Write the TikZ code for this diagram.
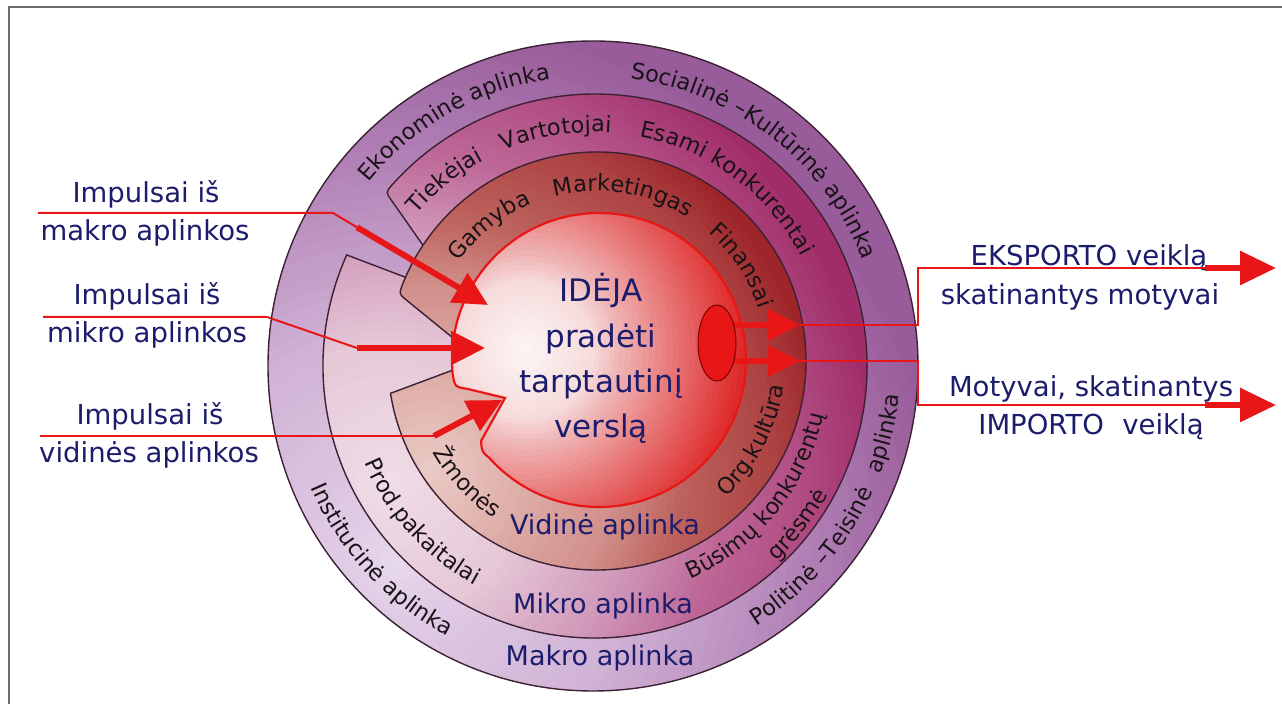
\documentclass[tikz,border=0pt]{standalone}
\usepackage{fontspec}
\setmainfont{DejaVu Sans}
\usetikzlibrary{arrows.meta,shapes.geometric,decorations.text}

\definecolor{navy}{RGB}{28,28,108}
\definecolor{ringtext}{RGB}{25,18,22}
\definecolor{ringline}{RGB}{60,34,52}
\definecolor{arrowred}{RGB}{232,22,22}
\definecolor{ellline}{RGB}{120,0,0}
\definecolor{framegray}{RGB}{110,110,110}
% colour stops of the four zones, from the light spot outwards
\definecolor{mk0}{RGB}{232,220,236}
\definecolor{mk1}{RGB}{225,205,230}
\definecolor{mk2}{RGB}{208,178,213}
\definecolor{mk3}{RGB}{175,125,180}
\definecolor{mk4}{RGB}{152,92,154}
\definecolor{mi0}{RGB}{240,222,232}
\definecolor{mi1}{RGB}{230,200,215}
\definecolor{mi2}{RGB}{208,152,185}
\definecolor{mi3}{RGB}{190,105,152}
\definecolor{mi4}{RGB}{176,75,130}
\definecolor{mi5}{RGB}{160,45,105}
\definecolor{vi0}{RGB}{236,205,200}
\definecolor{vi1}{RGB}{210,145,140}
\definecolor{vi2}{RGB}{190,100,95}
\definecolor{vi3}{RGB}{172,66,66}
\definecolor{vi4}{RGB}{158,38,42}
\definecolor{id0}{RGB}{253,247,247}
\definecolor{id1}{RGB}{246,220,220}
\definecolor{id2}{RGB}{240,185,185}
\definecolor{id3}{RGB}{232,115,115}
\definecolor{id4}{RGB}{222,42,42}
\definecolor{id5}{RGB}{220,35,35}

\newcommand\ringfont{\fontsize{11.25}{13}\selectfont}
\newcommand\labelfont{\fontsize{13.75}{16}\selectfont}
\newcommand\ideafont{\fontsize{15.5}{18}\selectfont}
% text set along an arc: centre, radius, start angle, end angle, text
\newcommand\arclabel[5]{%
  \path[decorate,decoration={text along path,text={|\ringfont|#5},
    text align=center,text color=ringtext}]
    ([shift={(#1)}]#3:#2) arc[start angle=#3,end angle=#4,radius=#2];}
% stepped radial blend: centre, inner radius, outer radius,
% inner colour, outer colour, number of steps
\newcommand\gradband[6]{%
  \foreach \k [evaluate=\k as \pct using {int(100*\k/#6)},
               evaluate=\k as \rr using {#3-(#3-#2)*\k/#6}] in {0,...,#6}
    {\fill[#4!\pct!#5] (#1) circle[radius=\rr];}}

% outlines of the four zones
\newcommand\makroshape{(cMa) circle[radius=325]}
\newcommand\mikroshape{([shift={(cMi)}]155.9:272)
  arc[start angle=155.9,end angle=498.2,radius=272]
  .. controls ([shift={(cMi)}]140.3:272) .. (391.5,-200.4) -- (460,-298) -- cycle}
\newcommand\vidshape{([shift={(cVi)}]188.9:209)
  arc[start angle=188.9,end angle=518.8,radius=209]
  .. controls ([shift={(cVi)}]161.3:209) .. (406,-299.7) -- (480,-360) -- cycle}
\newcommand\ideashape{([shift={(cIn)}]221.7:147)
  arc[start angle=221.7,end angle=545.8,radius=147]
  .. controls (455,-387) .. (468,-389) -- (505,-398) -- (481,-441)
  .. controls (482,-452) .. ([shift={(cIn)}]221.7:147) -- cycle}

\begin{document}
\begin{tikzpicture}[x=0.5pt,y=0.5pt,
  ringedge/.style={draw=ringline,line width=0.7pt},
  ringname/.style={anchor=base,text=navy,font=\fontsize{13.5}{16}\selectfont,inner sep=0pt},
  sidelabel/.style={anchor=base,text=navy,font=\labelfont,inner sep=0pt},
  idealine/.style={anchor=base,text=navy,font=\ideafont,inner sep=0pt},
  thinred/.style={draw=arrowred,line width=1pt},
  impulse/.style={draw=arrowred,line width=3pt,
    -{Triangle[length=17pt,width=16.5pt,fill=arrowred]}},
  smallhead/.style={draw=arrowred,line width=3pt,
    -{Triangle[length=16pt,width=15pt,fill=arrowred]}},
  bighead/.style={draw=arrowred,line width=3pt,
    -{Triangle[length=18pt,width=16.5pt,fill=arrowred]}}]
\useasboundingbox (0,0) rectangle (1282,-704);

% frame lines
\draw[framegray,line width=1pt] (9,-704) -- (9,-7) -- (1282,-7);

% centres of the rings and of their light spots
\coordinate (cMa) at (593,-366);
\coordinate (cMi) at (595,-366);
\coordinate (cVi) at (597,-361);
\coordinate (cIn) at (599,-360);
\coordinate (gMa) at (400,-560);
\coordinate (gMi) at (390,-480);
\coordinate (gVi) at (430,-470);
\coordinate (gIn) at (525,-350);

% macro environment
\begin{scope}
  \clip \makroshape;
  \fill[mk4] (gMa) circle[radius=700];
  \gradband{gMa}{422}{550}{mk3}{mk4}{12}
  \gradband{gMa}{234}{422}{mk2}{mk3}{16}
  \gradband{gMa}{50}{234}{mk1}{mk2}{16}
  \gradband{gMa}{0}{50}{mk0}{mk1}{5}
\end{scope}
\draw[ringedge] \makroshape;

% micro environment, opened on the upper left
\begin{scope}
  \clip \mikroshape;
  \fill[mi5] (gMi) circle[radius=700];
  \gradband{gMi}{420}{490}{mi4}{mi5}{8}
  \gradband{gMi}{330}{420}{mi3}{mi4}{10}
  \gradband{gMi}{250}{330}{mi2}{mi3}{10}
  \gradband{gMi}{140}{250}{mi1}{mi2}{12}
  \gradband{gMi}{0}{140}{mi0}{mi1}{12}
\end{scope}
\draw[ringedge] \mikroshape;

% internal environment, opened on the left
\begin{scope}
  \clip \vidshape;
  \fill[vi4] (gVi) circle[radius=600];
  \gradband{gVi}{348}{400}{vi3}{vi4}{8}
  \gradband{gVi}{253}{348}{vi2}{vi3}{12}
  \gradband{gVi}{185}{253}{vi1}{vi2}{10}
  \gradband{gVi}{0}{185}{vi0}{vi1}{16}
\end{scope}
\draw[ringedge] \vidshape;

% the idea core with its notch
\begin{scope}
  \clip \ideashape;
  \fill[id5] (gIn) circle[radius=400];
  \gradband{gIn}{220}{240}{id4}{id5}{3}
  \gradband{gIn}{154}{220}{id3}{id4}{12}
  \gradband{gIn}{94}{154}{id2}{id3}{10}
  \gradband{gIn}{70}{94}{id1}{id2}{5}
  \gradband{gIn}{0}{70}{id0}{id1}{10}
\end{scope}
\draw[draw=arrowred,line width=1.1pt] \ideashape;

% labels along the rings (upper half, clockwise)
\arclabel{cMa}{290}{179.5}{59.5}{Ekonominė aplinka}
\arclabel{cMa}{290}{112}{-8}{Socialinė –Kultūrinė aplinka}
\arclabel{cMi}{234}{159}{99}{Tiekėjai}
\arclabel{cMi}{234}{129.5}{69.5}{Vartotojai}
\arclabel{cMi}{234}{103.5}{3.5}{Esami konkurentai}
\arclabel{cVi}{170}{168.5}{88.5}{Gamyba}
\arclabel{cVi}{170}{131}{31}{Marketingas}
\arclabel{cVi}{170}{73.5}{-6.5}{Finansai}
% labels along the rings (lower half, counter-clockwise)
\arclabel{cMa}{307}{172.5}{272.5}{Institucinė aplinka}
\arclabel{cMa}{307}{279}{359}{Politinė –Teisinė}
\arclabel{cMa}{307}{317}{377}{aplinka}
\arclabel{cMi}{250}{172}{272}{Prod.pakaitalai}
\arclabel{cMi}{234}{271}{371}{Būsimų konkurentų}
\arclabel{cMi}{266}{282}{362}{grėsmė}
\arclabel{cVi}{188}{183}{263}{Žmonės}
\arclabel{cVi}{188}{283}{383}{Org.kultūra}

% ring names
\node[ringname] (vid) at (605,-535) {Vidinė aplinka};
\node[ringname] (mik) at (603,-614) {Mikro aplinka};
\node[ringname] (mak) at (600,-666) {Makro aplinka};

% the idea
\node[idealine] (idea1) at (601,-302) {IDĖJA};
\node[idealine] (idea2) at (601,-348) {pradėti};
\node[idealine] (idea3) at (601,-393) {tarptautinį};
\node[idealine] (idea4) at (601,-438) {verslą};

% impulse labels
\node[sidelabel] (imp1a) at (146,-203) {Impulsai iš};
\node[sidelabel] (imp1b) at (145,-241) {makro aplinkos};
\node[sidelabel] (imp2a) at (147,-305) {Impulsai iš};
\node[sidelabel] (imp2b) at (147,-343) {mikro aplinkos};
\node[sidelabel] (imp3a) at (150,-425) {Impulsai iš};
\node[sidelabel] (imp3b) at (149,-463) {vidinės aplinkos};

% motive labels
\node[sidelabel] (exp1) at (1089,-266) {EKSPORTO veiklą};
\node[sidelabel] (exp2) at (1080,-305) {skatinantys motyvai};
\node[sidelabel] (imp1) at (1091,-397) {Motyvai, skatinantys};
\node[sidelabel] (imp2) at (1091,-435) {IMPORTO\hspace{0.35em} veiklą};

% impulse arrows
\coordinate (s1) at (38,-213);  \coordinate (b1) at (333,-213);
\coordinate (k1) at (357,-227.3); \coordinate (t1) at (488,-305);
\coordinate (s2) at (43,-317);  \coordinate (b2) at (267,-317);
\coordinate (k2) at (357,-348); \coordinate (t2) at (485,-348);
\coordinate (s3) at (40,-436);  \coordinate (k3) at (434,-436);
\coordinate (t3) at (502,-400);
\draw[thinred] (s1) -- (b1) -- (k1);
\draw[impulse] (k1) -- (t1);
\draw[thinred] (s2) -- (b2) -- (k2);
\draw[impulse] (k2) -- (t2);
\draw[thinred] (s3) -- (k3);
\draw[impulse] (k3) -- (t3);

% motive arrows
\coordinate (x1) at (728,-325); \coordinate (h1) at (800,-325);
\coordinate (c1) at (918,-325); \coordinate (d1) at (918,-268);
\coordinate (g1) at (1205,-268); \coordinate (e1) at (1276,-268);
\coordinate (x2) at (728,-361); \coordinate (h2) at (800,-361);
\coordinate (c2) at (918,-361); \coordinate (d2) at (918,-405);
\coordinate (g2) at (1205,-405); \coordinate (e2) at (1276,-405);
\draw[smallhead] (x1) -- (h1);
\draw[thinred] (h1) -- (c1) -- (d1) -- (g1);
\draw[bighead] (g1) -- (e1);
\draw[smallhead] (x2) -- (h2);
\draw[thinred] (h2) -- (c2) -- (d2) -- (g2);
\draw[bighead] (g2) -- (e2);

% source of the motives
\node[ellipse,draw=ellline,fill=arrowred,line width=0.5pt,inner sep=0pt,
  minimum width=19pt,minimum height=38pt] (ell) at (717,-343) {};
\end{tikzpicture}
\end{document}
